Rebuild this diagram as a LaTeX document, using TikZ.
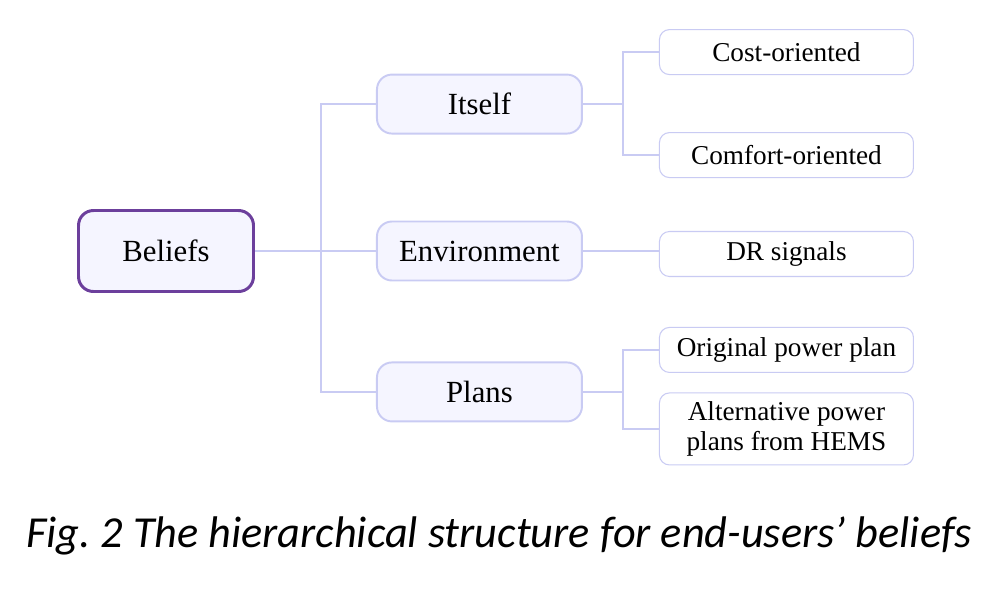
\documentclass[tikz,border=0pt]{standalone}
\usepackage{fontspec}
\setmainfont{Liberation Serif}
\newfontfamily\captionfont{Carlito}
\usetikzlibrary{positioning}
\definecolor{linkblue}{HTML}{C9CBF3}
\definecolor{boxfill}{HTML}{F5F5FF}
\definecolor{rootpurple}{HTML}{6C3F9C}
\tikzset{
  font=\fontsize{17.5}{20}\selectfont
}

\begin{document}
\begin{tikzpicture}[root/.style={rectangle,rounded corners=0.3cm,draw=rootpurple,line width=1.7pt,fill=boxfill,minimum width=3.5cm,minimum height=1.62cm},
  branch/.style={rectangle,rounded corners=0.3cm,draw=linkblue,line width=1.1pt,fill=boxfill,minimum width=4.1cm,minimum height=1.18cm},
  leaf/.style={rectangle,rounded corners=0.2cm,draw=linkblue,line width=0.6pt,fill=white,minimum width=5.08cm,minimum height=0.9cm,align=center,font=\fontsize{15.5}{17.6}\selectfont},
  link/.style={draw=linkblue,line width=0.9pt}]
\useasboundingbox (0,0) rectangle (19.88,-11.8);
\node[root] (beliefs) at (3.32,-5.02) {Beliefs};
\node[branch] (env) [right=2.42cm of beliefs] {Environment};
\node[branch] (itself) [above=1.76cm of env,yshift=-0.04cm] {Itself};
\node[branch] (plans) [below=1.6cm of env] {Plans};
\node[leaf] (cost) [right=1.52cm of itself,yshift=1.04cm] {Cost-oriented};
\node[leaf] (comfort) [right=1.52cm of itself,yshift=-1.02cm] {Comfort-oriented};
\node[leaf] (dr) [right=1.52cm of env,yshift=-0.06cm] {DR signals};
\node[leaf] (original) [right=1.52cm of plans,yshift=0.84cm] {Original power plan};
\node[leaf,minimum height=1.44cm] (alternative) [right=1.52cm of plans,yshift=-0.74cm] {Alternative power\\plans from HEMS};
\node[anchor=base] (caption) at (9.98,-10.94) {\captionfont\itshape\fontsize{25.2}{29}\selectfont Fig.\ 2 The hierarchical structure for end-users’ beliefs};
\coordinate (trunk) at ([xshift=1.32cm]beliefs.east);
\coordinate (fork1) at ([xshift=0.8cm]itself.east);
\coordinate (fork3) at ([xshift=0.8cm]plans.east);
\path[link] (beliefs) -- (env)
            (itself.west) -| (trunk) |- (plans.west)
            (env) -- (dr.west |- env)
            (itself.east) -- (fork1)
            (cost.west) -| (fork1) |- (comfort.west)
            (plans.east) -- (fork3)
            (original.west) -| (fork3) |- (alternative.west);
\end{tikzpicture}
\end{document}
